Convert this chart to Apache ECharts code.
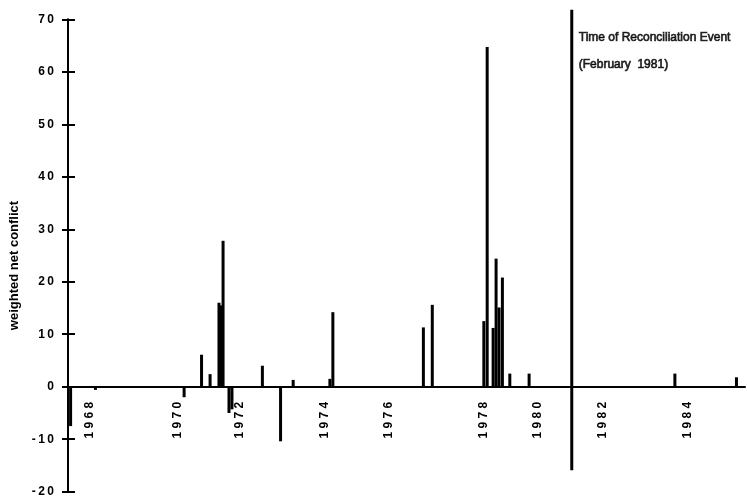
<!DOCTYPE html>
<html>
<head>
<meta charset="utf-8">
<script src="https://cdn.jsdelivr.net/npm/echarts/dist/echarts.min.js"></script>
<style>
  html, body { margin: 0; padding: 0; background: #fff; }
  #chart { width: 747px; height: 499px; }
</style>
</head>
<body>
<div id="chart"></div>
<script>
// Timeline positions (decimal years on the plotted time strip) of each recorded event
const eventPos = [
  1967.47, 1968.14, 1970.53, 1971.00, 1971.23, 1971.47, 1971.52, 1971.58,
  1971.74, 1971.82, 1972.64, 1973.13, 1973.47, 1974.46, 1974.54,
  1976.98, 1977.22, 1978.61, 1978.70, 1978.86, 1978.94, 1979.02, 1979.11,
  1979.31, 1979.83, 1983.76, 1985.42
];
// Weighted net conflict at each event
const netConflict = [
  -7.5, -0.6, -2, 6.1, 2.4, 16, 15.5, 27.8,
  -5, -4.3, 4, -10.4, 1.3, 1.5, 14.2,
  11.3, 15.6, 12.5, 64.7, 11.2, 24.4, 15.1, 20.8,
  2.5, 2.5, 2.5, 1.8
];
// Year markers along the time strip
const yearTickPos = [1968.14, 1970.53, 1972.18, 1974.48, 1976.20, 1978.76, 1980.22, 1981.97, 1984.26];
const yearTickLabels = ['1968', '1970', '1972', '1974', '1976', '1978', '1980', '1982', '1984'];
// Reconciliation event (February 1981) and the span of its marker line
const reconciliationPos = 1980.98;
const reconciliationSpan = [-15.9, 71.8];
const reconciliationText = ['Time of Reconciliation Event', '(February  1981)'];

const xRange = [1967.4, 1985.65];
const yRange = [-20, 70];

const font = '"Liberation Sans", Arial, Helvetica, sans-serif';
const spaced = (s, sep) => String(s).split('').join(sep);

const gridTop = 19.3, gridBottom = 7.3, chartH = 499;
const plotH = chartH - gridTop - gridBottom;
// lift the time axis from the grid bottom up to the zero line
const zeroLift = plotH * (0 - yRange[0]) / (yRange[1] - yRange[0]);

const chart = echarts.init(document.getElementById('chart'), null, { renderer: 'canvas' });

chart.setOption({
  backgroundColor: '#ffffff',
  animation: false,
  grid: {
    left: 68, right: 2, top: gridTop, bottom: gridBottom,
    containLabel: false,
    outerBoundsMode: 'none'
  },
  xAxis: {
    type: 'value',
    min: xRange[0],
    max: xRange[1],
    offset: -zeroLift,
    splitLine: { show: false },
    axisLine: { onZero: false, lineStyle: { color: '#000', width: 2 } },
    axisTick: { show: false },
    axisLabel: {
      customValues: yearTickPos,
      rotate: 90,
      verticalAlign: 'bottom',
      margin: 15,
      color: '#000',
      fontFamily: font,
      fontWeight: 'bold',
      fontSize: 12,
      formatter: (v) => {
        let best = 0;
        yearTickPos.forEach((p, i) => { if (Math.abs(p - v) < Math.abs(yearTickPos[best] - v)) best = i; });
        return spaced(yearTickLabels[best], ' ');
      }
    }
  },
  yAxis: [
    {
      type: 'value',
      min: yRange[0],
      max: yRange[1],
      interval: 10,
      name: 'weighted net conflict',
      nameLocation: 'middle',
      nameGap: 43,
      nameTextStyle: {
        color: '#000', fontFamily: font, fontWeight: 'bold', fontSize: 13,
        padding: [0, 20, 0, 0]
      },
      splitLine: { show: false },
      axisLine: { show: true, lineStyle: { color: '#000', width: 2 } },
      axisTick: { show: true, inside: false, length: 6, lineStyle: { color: '#000', width: 2 } },
      axisLabel: {
        margin: 14,
        color: '#000',
        fontFamily: font,
        fontWeight: 'bold',
        fontSize: 12,
        formatter: (v) => spaced(v, '\u2009')
      }
    },
    {
      // inner half of the crossing tick marks
      type: 'value',
      min: yRange[0],
      max: yRange[1],
      interval: 10,
      position: 'left',
      splitLine: { show: false },
      axisLine: { show: false },
      axisTick: { show: true, inside: true, length: 7, lineStyle: { color: '#000', width: 2 } },
      axisLabel: { show: false }
    }
  ],
  series: [
    {
      type: 'bar',
      barWidth: 3,
      itemStyle: { color: '#000' },
      data: eventPos.map((x, i) => [x, netConflict[i]])
    },
    {
      type: 'line',
      clip: false,
      symbol: 'none',
      lineStyle: { color: '#000', width: 3 },
      data: reconciliationSpan.map((y) => [reconciliationPos, y])
    },
    {
      type: 'scatter',
      symbolSize: 0,
      data: [[reconciliationPos, 64]],
      label: {
        show: true,
        position: 'right',
        distance: 7,
        color: '#000',
        fontFamily: font,
        fontSize: 12,
        textBorderColor: '#000',
        textBorderWidth: 0.7,
        lineHeight: 27,
        formatter: () => reconciliationText.join('\n')
      }
    }
  ]
});
</script>
</body>
</html>
